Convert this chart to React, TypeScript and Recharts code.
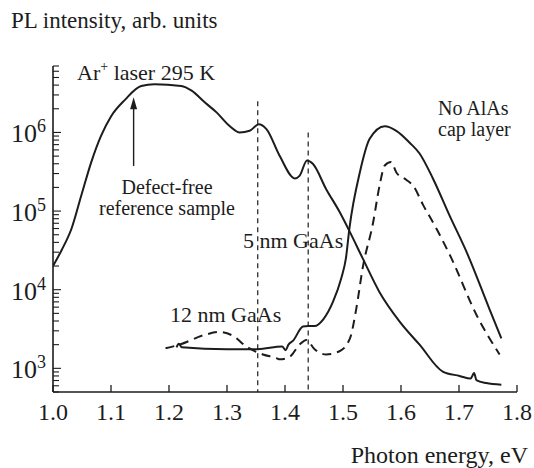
import { LineChart, Line, XAxis, YAxis, ReferenceLine } from "recharts";

// defect-free reference sample (solid)
const refEnergy = [1.0, 1.015, 1.032, 1.049, 1.066, 1.083, 1.1, 1.124, 1.152, 1.175, 1.221, 1.239, 1.262, 1.282, 1.305, 1.322, 1.339, 1.355, 1.368, 1.391, 1.417, 1.425, 1.438, 1.448, 1.471, 1.494, 1.512, 1.534, 1.563, 1.598, 1.632, 1.672, 1.701, 1.72, 1.726, 1.73, 1.747, 1.773];
const refPL = [2.0e4, 3.2e4, 6.0e4, 1.6e5, 4.2e5, 9.1e5, 1.6e6, 2.6e6, 3.9e6, 4.1e6, 3.9e6, 3.4e6, 2.4e6, 1.8e6, 1.2e6, 1.0e6, 1.05e6, 1.27e6, 1.1e6, 5.0e5, 2.6e5, 2.8e5, 4.4e5, 4.0e5, 1.9e5, 9.8e4, 5.4e4, 2.5e4, 9.3e3, 3.9e3, 2.0e3, 910, 800, 740, 870, 710, 650, 620];

// no AlAs cap layer (solid)
const capEnergy = [1.213, 1.217, 1.222, 1.3, 1.353, 1.395, 1.401, 1.406, 1.414, 1.431, 1.44, 1.451, 1.466, 1.483, 1.497, 1.505, 1.511, 1.529, 1.546, 1.572, 1.592, 1.615, 1.632, 1.655, 1.684, 1.715, 1.752, 1.773];
const capPL = [1.85e3, 2.05e3, 1.85e3, 1.75e3, 1.75e3, 1.9e3, 1.7e3, 2.0e3, 2.25e3, 3.4e3, 3.45e3, 3.45e3, 4.2e3, 7.1e3, 1.4e4, 2.5e4, 6.0e4, 3.1e5, 8.3e5, 1.2e6, 1.05e6, 7.4e5, 5.4e5, 2.6e5, 8.7e4, 2.8e4, 5.8e3, 2.4e3];

// dashed curve
const dashEnergy = [1.194, 1.218, 1.264, 1.287, 1.31, 1.333, 1.362, 1.385, 1.391, 1.408, 1.425, 1.437, 1.451, 1.471, 1.494, 1.512, 1.523, 1.534, 1.552, 1.563, 1.572, 1.583, 1.592, 1.609, 1.621, 1.638, 1.661, 1.687, 1.73, 1.77];
const dashPL = [1.8e3, 2.0e3, 2.7e3, 2.9e3, 2.6e3, 1.9e3, 1.5e3, 1.35e3, 1.3e3, 1.4e3, 2.0e3, 2.3e3, 1.75e3, 1.5e3, 1.65e3, 2.4e3, 5.8e3, 1.9e4, 7.2e4, 2.1e5, 3.8e5, 4.2e5, 3.1e5, 2.5e5, 2.1e5, 1.2e5, 6.0e4, 2.5e4, 4.8e3, 1.5e3];

const xTicks = [1.0, 1.1, 1.2, 1.3, 1.4, 1.5, 1.6, 1.7, 1.8];
const yMajor = [1e3, 1e4, 1e5, 1e6];
const yMinor = [500, 600, 700, 800, 900, 2e3, 3e3, 4e3, 5e3, 6e3, 7e3, 8e3, 9e3, 2e4, 3e4, 4e4, 5e4, 6e4, 7e4, 8e4, 9e4, 2e5, 3e5, 4e5, 5e5, 6e5, 7e5, 8e5, 9e5, 2e6, 3e6, 4e6, 5e6, 6e6, 7e6];

const gaAsLines = [
  { e: 1.353, top: 2.5e6 },
  { e: 1.44, top: 1.0e6 },
];
const arrow = { e: 1.139, from: 3.75e5, to: 2.8e6 };

const toRows = (xs: number[], ys: number[]) => xs.map((e, i) => ({ e, v: ys[i] }));

const INK = "#1c1c1c";
const FONT = "'Liberation Serif', 'Times New Roman', serif";

function XTick(props: any) {
  const { x, y, payload } = props;
  return (
    <g>
      <line x1={x} x2={x} y1={y} y2={y - 7} stroke={INK} strokeWidth={1.3} />
      <text x={x} y={y + 28} textAnchor="middle" fontFamily={FONT} fontSize={24} fill={INK}>
        {payload.value.toFixed(1)}
      </text>
    </g>
  );
}

function YTick(props: any) {
  const { x, y, payload } = props;
  const v = payload.value;
  const major = yMajor.includes(v);
  return (
    <g>
      <line x1={x} x2={x + (major ? 8 : 6)} y1={y} y2={y} stroke={INK} strokeWidth={1.1} />
      {major && (
        <text x={x - 42} y={y + 10} fontFamily={FONT} fontSize={26} fill={INK}>
          10
          <tspan dy={-10} fontSize={18}>
            {Math.round(Math.log10(v))}
          </tspan>
        </text>
      )}
    </g>
  );
}

function ArrowShape(props: any) {
  const { x1, y1, x2, y2 } = props;
  const tipY = Math.min(y1, y2);
  const baseY = Math.max(y1, y2);
  return (
    <g>
      <line x1={x1} x2={x2} y1={baseY} y2={tipY + 6} stroke={INK} strokeWidth={1.4} />
      <polygon points={`${x1},${tipY} ${x1 - 3.5},${tipY + 12} ${x1 + 3.5},${tipY + 12}`} fill={INK} />
    </g>
  );
}

export default function App() {
  return (
    <div style={{ position: "absolute", left: 0, top: 0, width: 534, height: 468, background: "#fff" }}>
      <LineChart width={534} height={468} margin={{ top: 66, right: 17, bottom: 36, left: 0 }}>
        <XAxis
          type="number"
          dataKey="e"
          domain={[1.0, 1.8]}
          ticks={xTicks}
          allowDataOverflow
          height={40}
          tickLine={false}
          tickSize={0}
          tickMargin={0}
          tick={<XTick />}
          axisLine={{ stroke: INK, strokeWidth: 1.6 }}
        />
        <YAxis
          type="number"
          dataKey="v"
          scale="log"
          domain={[500, 7e6]}
          ticks={[...yMinor, ...yMajor].sort((a, b) => a - b)}
          allowDataOverflow
          width={53}
          tickLine={false}
          tickSize={0}
          tickMargin={0}
          tick={<YTick />}
          interval={0}
          axisLine={{ stroke: INK, strokeWidth: 1.6 }}
        />
        {gaAsLines.map((g) => (
          <ReferenceLine
            key={g.e}
            segment={[
              { x: g.e, y: g.top },
              { x: g.e, y: 500 },
            ]}
            stroke={INK}
            strokeWidth={1.2}
            strokeDasharray="5 4"
          />
        ))}
        <ReferenceLine
          segment={[
            { x: arrow.e, y: arrow.from },
            { x: arrow.e, y: arrow.to },
          ]}
          shape={<ArrowShape />}
        />
        <Line data={toRows(refEnergy, refPL)} dataKey="v" type="monotone" stroke={INK} strokeWidth={2} dot={false} isAnimationActive={false} />
        <Line data={toRows(capEnergy, capPL)} dataKey="v" type="monotone" stroke={INK} strokeWidth={2} dot={false} isAnimationActive={false} />
        <Line data={toRows(dashEnergy, dashPL)} dataKey="v" type="monotone" stroke={INK} strokeWidth={2} strokeDasharray="9 6" dot={false} isAnimationActive={false} />
      </LineChart>
      <svg width={534} height={468} style={{ position: "absolute", left: 0, top: 0, pointerEvents: "none" }}>
        <g fontFamily={FONT} fill={INK}>
          <text x={11} y={28} fontSize={23}>PL intensity, arb. units</text>
          <text x={77} y={80} fontSize={22}>
            Ar<tspan dy={-9} fontSize={14}>+</tspan>
            <tspan dy={9}> laser 295 K</tspan>
          </text>
          <text fontSize={20} textAnchor="middle">
            <tspan x={167} y={194}>Defect-free</tspan>
            <tspan x={167} dy={21}>reference sample</tspan>
          </text>
          <text fontSize={20}>
            <tspan x={438} y={115}>No AlAs</tspan>
            <tspan x={438} dy={21}>cap layer</tspan>
          </text>
          <text x={243} y={248} fontSize={22}>5 nm GaAs</text>
          <text x={170} y={322} fontSize={22}>12 nm GaAs</text>
          <text x={528} y={463} fontSize={24} textAnchor="end">Photon energy, eV</text>
        </g>
      </svg>
    </div>
  );
}
